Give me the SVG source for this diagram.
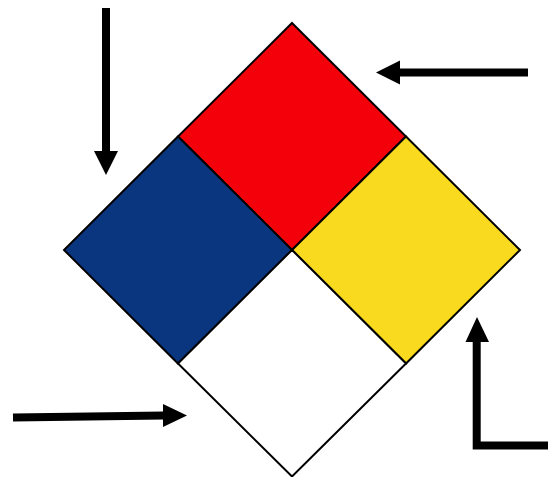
<svg xmlns="http://www.w3.org/2000/svg" width="548" height="477" viewBox="0 0 548 477">
<style>
.q{stroke:#000;stroke-width:2;stroke-linejoin:miter}
.ln{stroke:#000;stroke-width:8;fill:none}
.hd{fill:#000}
</style>
<rect width="548" height="477" fill="#fff"/>
<g id="red"><polygon class="q" points="292,23 406,136.5 292,250 178,136.5" fill="#F4000A"/></g>
<g id="blue"><polygon class="q" points="178,136.5 292,250 178,363.5 64,250" fill="#0A3680"/></g>
<g id="yellow"><polygon class="q" points="406,136.5 520,250 406,363.5 292,250" fill="#F9DA1F"/></g>
<g id="white"><polygon class="q" points="292,250 406,363.5 292,476.5 178,363.5" fill="#fff"/></g>
<g id="connectors">
<line class="ln" x1="106" y1="8" x2="106" y2="152"/>
<polygon class="hd" points="94,151 118,151 106,175"/>
<line class="ln" x1="528" y1="72.5" x2="399" y2="72.5"/>
<polygon class="hd" points="400,60.5 400,84.5 376,72.5"/>
<line class="ln" x1="13" y1="417.5" x2="164" y2="415.5"/>
<polygon class="hd" points="163,404 163,427 187,415.5"/>
<polyline class="ln" points="548,445.5 476.7,445.5 476.7,340"/>
<polygon class="hd" points="465.5,342 489,342 477,317"/>
</g>
</svg>
